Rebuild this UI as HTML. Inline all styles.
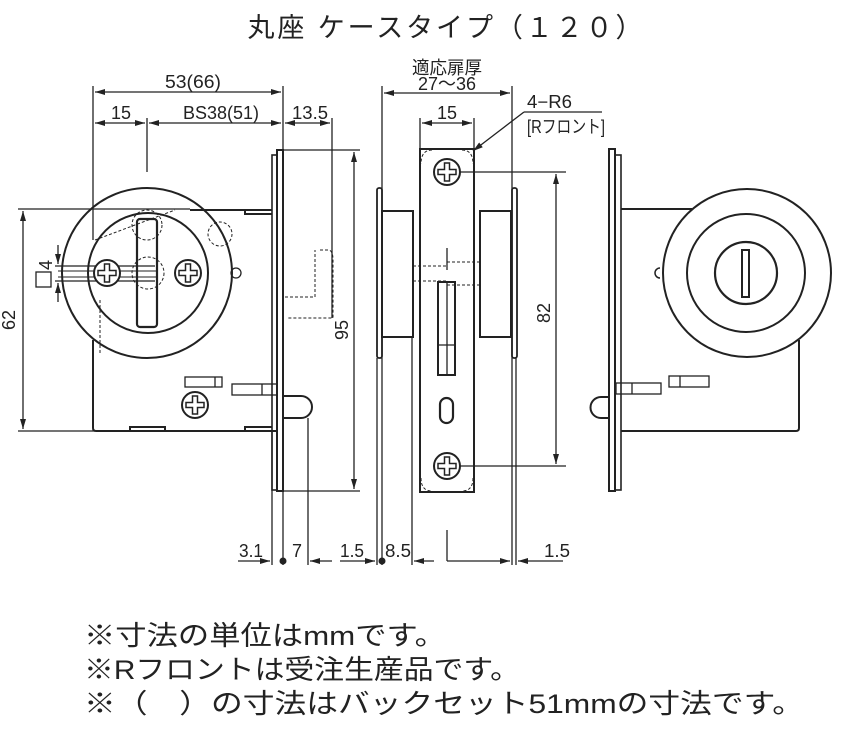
<!DOCTYPE html>
<html><head><meta charset="utf-8"><style>
html,body{margin:0;padding:0;background:#fff;}
svg{display:block;}
text{font-family:"Liberation Sans","Noto Sans CJK JP",sans-serif;fill:#222;}
.d{font-size:18px;}
</style></head><body>
<svg width="844" height="731" viewBox="0 0 844 731" xmlns="http://www.w3.org/2000/svg">
<defs>
<marker id="a" viewBox="0 0 10 6" refX="10" refY="3" markerWidth="11" markerHeight="6" orient="auto-start-reverse" markerUnits="userSpaceOnUse"><path d="M0,0 L10,3 L0,6 z" fill="#222"/></marker>
<g id="scr"><circle r="13" fill="#fff" stroke="#222" stroke-width="2"/><path d="M-2.5,-9 h5 v6.5 h6.5 v5 h-6.5 v6.5 h-5 v-6.5 h-6.5 v-5 h6.5 z" fill="none" stroke="#222" stroke-width="1.5"/></g>
</defs>
<text x="445" y="37" font-size="27" text-anchor="middle" textLength="395" lengthAdjust="spacing">丸座 ケースタイプ（１２０）</text>
<g stroke="#222" stroke-width="1.3" fill="none">
<line x1="93" y1="86" x2="93" y2="240"/><line x1="283" y1="86" x2="283" y2="565"/>
<line x1="95" y1="92" x2="281" y2="92" marker-start="url(#a)" marker-end="url(#a)"/>
<line x1="95" y1="123" x2="145" y2="123" marker-start="url(#a)" marker-end="url(#a)"/>
<line x1="149" y1="123" x2="281" y2="123" marker-start="url(#a)" marker-end="url(#a)"/>
<line x1="285" y1="123" x2="330" y2="123" marker-start="url(#a)" marker-end="url(#a)"/>
<line x1="147" y1="118" x2="147" y2="172"/><line x1="332" y1="118" x2="332" y2="318"/>
<line x1="18" y1="209" x2="190" y2="209"/><line x1="18" y1="431" x2="95" y2="431"/>
<line x1="23" y1="211" x2="23" y2="429" marker-start="url(#a)" marker-end="url(#a)"/>
<line x1="283" y1="150" x2="360" y2="150"/><line x1="283" y1="491" x2="360" y2="491"/>
<line x1="354" y1="152" x2="354" y2="489" marker-start="url(#a)" marker-end="url(#a)"/>
<line x1="55" y1="266" x2="155" y2="266"/><line x1="55" y1="281" x2="155" y2="281"/>
<line x1="58" y1="245" x2="58" y2="264" marker-end="url(#a)"/><line x1="58" y1="302" x2="58" y2="283" marker-end="url(#a)"/>
<rect x="36" y="272" width="15" height="15"/>
<path d="M93,340 V428 q0,3 3,3 H277 M190,210 H272" stroke-width="2"/>
<path d="M245,210 v4 h27" stroke-width="2"/>
<path d="M245,431 v-4 h27 M130,431 v-4 h35 v4" stroke-width="2"/>
<rect x="277" y="150" width="6" height="341" stroke-width="2"/>
<rect x="272" y="155" width="5" height="335" stroke-width="1.6"/>
<path d="M283,396 h18 a11,11 0 0 1 0,22 h-18" stroke-width="2"/>
<rect x="185" y="377" width="37" height="10"/><line x1="215" y1="377" x2="215" y2="387"/>
<rect x="232" y="384" width="45" height="11"/><line x1="262" y1="384" x2="262" y2="395"/>
<circle cx="147" cy="273" r="85" stroke-width="2"/>
<circle cx="148" cy="273" r="60" stroke-width="2"/>
<rect x="137" y="219" width="20" height="108" rx="3" stroke-width="2.2"/>
<circle cx="236" cy="273" r="5"/>
<g stroke-dasharray="3,2" stroke-width="1"><circle cx="148" cy="273" r="16"/><circle cx="220" cy="234" r="12"/><circle cx="147" cy="225" r="15"/><path d="M320,250 h8 q5,0 5,10 v58 h-45 M285,297 h30 v-47"/><path d="M100,300 v55 M95,240 l80,-30"/></g>
<path d="M58,271 h100 M58,277 h100" stroke-width="1"/>
<line x1="382" y1="86" x2="382" y2="565"/><line x1="512" y1="86" x2="512" y2="565"/>
<line x1="384" y1="93" x2="510" y2="93" marker-start="url(#a)" marker-end="url(#a)"/>
<line x1="420" y1="118" x2="420" y2="149"/><line x1="474" y1="118" x2="474" y2="149"/>
<line x1="422" y1="123" x2="472" y2="123" marker-start="url(#a)" marker-end="url(#a)"/>
<path d="M602,112 H524" /><line x1="524" y1="112" x2="473" y2="151" marker-end="url(#a)"/>
<rect x="420" y="149" width="54" height="343" stroke-width="2"/>
<rect x="377" y="188" width="5" height="170" rx="2" stroke-width="1.8"/>
<rect x="382" y="211" width="31" height="126" stroke-width="2"/>
<rect x="480" y="211" width="31" height="126" stroke-width="2"/>
<rect x="512" y="188" width="5" height="170" rx="2" stroke-width="1.8"/>
<line x1="377" y1="358" x2="377" y2="565"/><line x1="412" y1="337" x2="412" y2="565"/><line x1="516" y1="358" x2="516" y2="565"/>
<line x1="447" y1="530" x2="447" y2="561"/>
<rect x="438" y="282" width="17" height="93" stroke-width="2"/><line x1="447" y1="282" x2="447" y2="375"/><line x1="438" y1="345" x2="455" y2="345"/>
<rect x="440" y="398" width="13" height="25" rx="6.5" stroke-width="2.2"/>
<g stroke-dasharray="3,2" stroke-width="1"><path d="M413,266 H447 M413,281 H447 M447,262 H480 M447,285 H480"/><path d="M432,150 q-11,0 -11,14 M462,150 q11,0 11,14 M421,478 q0,13 11,13 M473,478 q0,13 -11,13"/></g>
<line x1="447" y1="248" x2="447" y2="270"/>
<line x1="460" y1="172" x2="566" y2="172"/><line x1="460" y1="466" x2="566" y2="466"/>
<line x1="556" y1="174" x2="556" y2="464" marker-start="url(#a)" marker-end="url(#a)"/>
<line x1="272" y1="430" x2="272" y2="565"/><line x1="308" y1="418" x2="308" y2="565"/>
<line x1="238" y1="561" x2="270" y2="561" marker-end="url(#a)"/>
<line x1="332" y1="561" x2="310" y2="561" marker-end="url(#a)"/>
<line x1="340" y1="561" x2="375" y2="561" marker-end="url(#a)"/>
<line x1="434" y1="561" x2="414" y2="561" marker-end="url(#a)"/>
<line x1="447" y1="561" x2="510" y2="561" marker-end="url(#a)"/>
<line x1="563" y1="561" x2="518" y2="561" marker-end="url(#a)"/>
<rect x="609" y="149" width="6" height="342" stroke-width="2"/>
<rect x="615" y="155" width="6" height="335" stroke-width="1.6"/>
<path d="M621,209 H692 M621,431 H796 q3,0 3,-3 V340" stroke-width="2"/>
<path d="M609,397 h-8 a10.5,10.5 0 0 0 0,21 h8" stroke-width="2"/>
<rect x="669" y="376" width="40" height="11"/><line x1="680" y1="376" x2="680" y2="387"/>
<rect x="616" y="383" width="45" height="11"/><line x1="632" y1="383" x2="632" y2="394"/>
<path d="M660,268 a5,5 0 0 0 0,10" stroke-width="1.5"/>
<circle cx="747" cy="273" r="84" stroke-width="2"/>
<circle cx="746" cy="273" r="59" stroke-width="2"/>
<circle cx="746" cy="273" r="31" stroke-width="2.2"/>
<rect x="742" y="250" width="7" height="47" stroke-width="2"/>
</g>
<g fill="#222"><circle cx="283" cy="561" r="3.5"/><circle cx="382" cy="561" r="3.5"/></g>
<use href="#scr" x="107" y="273"/><use href="#scr" x="188" y="273"/><use href="#scr" x="195" y="405"/>
<use href="#scr" x="447" y="172"/><use href="#scr" x="447" y="466"/>
<g class="d">
<text x="193" y="88" text-anchor="middle" textLength="56" lengthAdjust="spacingAndGlyphs">53(66)</text>
<text x="121" y="119" text-anchor="middle" textLength="20" lengthAdjust="spacingAndGlyphs">15</text>
<text x="221" y="119" text-anchor="middle" textLength="76" lengthAdjust="spacingAndGlyphs">BS38(51)</text>
<text x="310" y="119" text-anchor="middle" textLength="36" lengthAdjust="spacingAndGlyphs">13.5</text>
<text transform="translate(15,320) rotate(-90)" text-anchor="middle" textLength="20" lengthAdjust="spacingAndGlyphs">62</text>
<text transform="translate(348,330) rotate(-90)" text-anchor="middle" textLength="20" lengthAdjust="spacingAndGlyphs">95</text>
<text transform="translate(52,265) rotate(-90)" text-anchor="middle">4</text>
<text x="447" y="90" text-anchor="middle" textLength="58" lengthAdjust="spacingAndGlyphs">27〜36</text>
<text x="447" y="74" text-anchor="middle" textLength="70" lengthAdjust="spacingAndGlyphs">適応扉厚</text>
<text x="447" y="119" text-anchor="middle" textLength="20" lengthAdjust="spacingAndGlyphs">15</text>
<text x="527" y="108" textLength="45" lengthAdjust="spacingAndGlyphs">4−R6</text>
<text x="527" y="133" textLength="78" lengthAdjust="spacingAndGlyphs">[Rフロント]</text>
<text transform="translate(550,313) rotate(-90)" text-anchor="middle" textLength="20" lengthAdjust="spacingAndGlyphs">82</text>
<text x="251" y="557" text-anchor="middle" textLength="24" lengthAdjust="spacingAndGlyphs">3.1</text>
<text x="297" y="557" text-anchor="middle">7</text>
<text x="352" y="557" text-anchor="middle" textLength="24" lengthAdjust="spacingAndGlyphs">1.5</text>
<text x="398" y="557" text-anchor="middle" textLength="26" lengthAdjust="spacingAndGlyphs">8.5</text>
<text x="557" y="557" text-anchor="middle" textLength="26" lengthAdjust="spacingAndGlyphs">1.5</text>
</g>
<g font-size="27">
<text x="84" y="645" textLength="362" lengthAdjust="spacingAndGlyphs">※寸法の単位はmmです。</text>
<text x="84" y="679" textLength="436" lengthAdjust="spacingAndGlyphs">※Rフロントは受注生産品です。</text>
<text x="84" y="713" textLength="720" lengthAdjust="spacingAndGlyphs">※（　）の寸法はバックセット51mmの寸法です。</text>
</g>
</svg>
</body></html>
